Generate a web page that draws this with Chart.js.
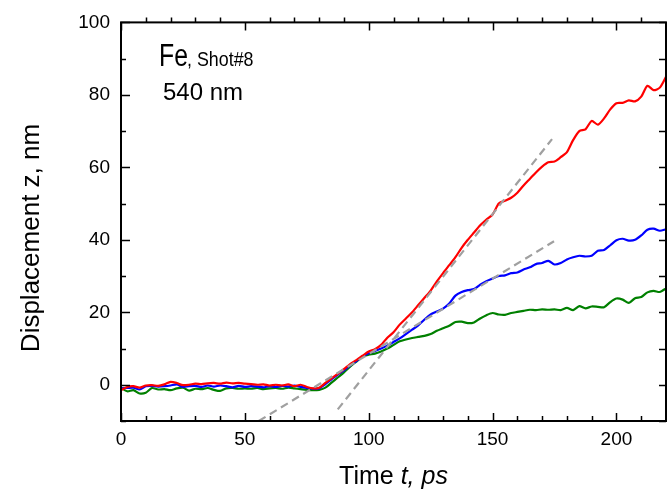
<!DOCTYPE html>
<html>
<head>
<meta charset="utf-8">
<script src="https://cdn.jsdelivr.net/npm/chart.js@4.4.0/dist/chart.umd.min.js"></script>
<style>
    html, body { margin: 0; padding: 0; background: #fff; }
    #wrap { width: 669px; height: 491px; }
</style>
</head>
<body>
<div id="wrap"><canvas id="dispChart" width="669" height="491"></canvas></div>
<script>
// time axis, ps
const timePs = [
    0, 2.5, 5, 7.5, 10, 12.5, 15, 17.5, 20, 22.5, 25, 27.5, 30, 32.5, 35, 37.5,
    40, 42.5, 45, 47.5, 50, 52.5, 55, 57.5, 60, 62.5, 65, 67.5, 70, 72.5, 75, 77.5,
    80, 82.5, 85, 87.5, 90, 92.5, 95, 97.5, 100, 102.5, 105, 107.5, 110, 112.5, 115, 117.5,
    120, 122.5, 125, 127.5, 130, 132.5, 135, 137.5, 140, 142.5, 145, 147.5, 150, 152.5, 155, 157.5,
    160, 162.5, 165, 167.5, 170, 172.5, 175, 177.5, 180, 182.5, 185, 187.5, 190, 192.5, 195, 197.5,
    200, 202.5, 205, 207.5, 210, 212.5, 215, 217.5, 220
]

// displacement, nm
const redZ = [
    -1.5, -0.6, -0.4, -0.8, -0.2, -0.1, -0.3, 0.1, 0.8, 0.5, -0.1, 0.0, 0.3, 0.2, 0.4, 0.5,
    0.3, 0.6, 0.4, 0.5, 0.3, 0.2, 0.0, 0.1, -0.2, 0.0, -0.2, 0.1, -0.4, 0.0, -0.6, -1.0,
    -0.8, 0.5, 1.8, 3.0, 4.3, 5.7, 6.8, 8.0, 9.2, 9.8, 11.0, 13.0, 14.5, 16.6, 18.3, 20.0,
    22.0, 24.0, 26.0, 28.5, 30.8, 33.0, 35.2, 37.8, 40.0, 42.0, 44.0, 45.6, 47.0, 50.0, 50.8, 51.6,
    53.0, 55.0, 56.8, 58.6, 60.2, 61.4, 61.6, 62.8, 64.2, 67.5, 70.0, 70.5, 72.8, 71.8, 73.5, 76.0,
    77.7, 77.8, 78.5, 78.2, 79.5, 82.5, 81.3, 82.0, 85.0
]
const blueZ = [
    -1.0, -0.9, -0.8, -1.3, -0.4, -0.3, -0.5, -0.4, -0.2, 0.1, -0.6, -0.4, -0.3, -0.6, -0.2, -0.5,
    -0.2, -0.4, -0.7, -0.3, -0.6, -0.4, -0.5, -0.7, -0.4, -0.6, -0.3, -0.5, -0.2, -0.6, -0.9, -1.1,
    -1.0, 0.2, 1.5, 2.8, 4.0, 5.3, 6.5, 7.8, 8.7, 9.3, 10.0, 10.8, 11.8, 12.8, 14.0, 15.2,
    16.4, 18.0, 19.4, 20.2, 21.0, 22.4, 24.6, 25.6, 26.1, 26.4, 27.6, 28.6, 29.3, 30.0, 30.2, 30.8,
    31.0, 31.8, 32.4, 33.3, 33.6, 34.2, 33.2, 33.6, 34.6, 35.2, 35.6, 35.4, 35.6, 37.0, 37.2, 38.5,
    39.9, 40.3, 39.8, 40.0, 41.2, 42.8, 43.1, 42.5, 42.9
]
const greenZ = [
    -0.8, -1.8, -1.5, -2.4, -2.2, -0.9, -1.3, -1.2, -1.5, -1.0, -0.8, -1.6, -1.1, -1.2, -0.9, -1.4,
    -1.7, -1.0, -0.9, -1.1, -1.0, -1.1, -0.9, -1.2, -1.0, -0.9, -1.1, -0.8, -1.0, -1.2, -1.4, -1.5,
    -1.4, -0.8, 0.6, 2.0, 3.4, 5.0, 6.4, 7.8, 8.3, 8.6, 9.2, 10.0, 11.0, 12.0, 12.5, 12.9,
    13.2, 13.5, 14.0, 14.9, 15.6, 16.3, 17.3, 17.4, 17.0, 17.2, 18.3, 19.2, 19.8, 19.4, 19.3, 19.8,
    20.1, 20.4, 20.7, 20.6, 20.8, 20.7, 20.8, 20.6, 21.2, 20.6, 21.7, 21.1, 21.6, 21.5, 21.4, 22.8,
    23.8, 23.5, 22.6, 23.9, 24.2, 25.5, 25.9, 25.6, 26.6
]

// linear fits (dashed)
const fitSteepT = [87.5, 174]
const fitSteepZ = [-6.8, 67.8]
const fitShallowT = [55.6, 174.8]
const fitShallowZ = [-10, 39.6]

const xTickLabels = [0, 50, 100, 150, 200]
const xMinorTicks = [10, 20, 30, 40, 60, 70, 80, 90, 110, 120, 130, 140, 160, 170, 180, 190, 210]
const yTickLabels = [0, 20, 40, 60, 80, 100]
const yMinorTicks = [-10, 10, 30, 50, 70, 90]

const FONT = "'Liberation Sans', Arial, Helvetica, sans-serif"

function pairs(xs, ys) {
    return xs.map((x, i) => ({ x: x, y: ys[i] }))
}

const frameTicks = {
    id: 'frameTicks',
    afterDraw(chart) {
        const { ctx, chartArea: a, scales } = chart
        const xs = scales.x, ys = scales.y
        ctx.save()
        ctx.strokeStyle = '#000'
        ctx.lineWidth = 2
        ctx.strokeRect(a.left, a.top, a.right - a.left, a.bottom - a.top)

        ctx.lineWidth = 1.5
        ctx.beginPath()
        xTickLabels.forEach(v => {
            const px = Math.round(xs.getPixelForValue(v)) + 0.5
            ctx.moveTo(px, a.bottom); ctx.lineTo(px, a.bottom - 8)
            ctx.moveTo(px, a.top); ctx.lineTo(px, a.top + 8)
        })
        xMinorTicks.forEach(v => {
            const px = Math.round(xs.getPixelForValue(v)) + 0.5
            ctx.moveTo(px, a.bottom); ctx.lineTo(px, a.bottom - 5)
            ctx.moveTo(px, a.top); ctx.lineTo(px, a.top - 5)
        })
        yTickLabels.forEach(v => {
            const py = Math.round(ys.getPixelForValue(v)) + 0.5
            ctx.moveTo(a.left, py); ctx.lineTo(a.left + 9, py)
            ctx.moveTo(a.right, py); ctx.lineTo(a.right - 7, py)
        })
        yMinorTicks.forEach(v => {
            const py = Math.round(ys.getPixelForValue(v)) + 0.5
            ctx.moveTo(a.left, py); ctx.lineTo(a.left + 5, py)
            ctx.moveTo(a.right, py); ctx.lineTo(a.right - 7, py)
        })
        ctx.stroke()

        // axis titles
        ctx.fillStyle = '#000'
        ctx.textBaseline = 'alphabetic'
        ctx.font = '25px ' + FONT
        const w1 = ctx.measureText('Time ').width
        ctx.font = 'italic 25px ' + FONT
        const w2 = ctx.measureText('t, ps').width
        let tx = (a.left + a.right) / 2 - (w1 + w2) / 2
        ctx.font = '25px ' + FONT
        ctx.textAlign = 'left'
        ctx.fillText('Time ', tx, 484)
        ctx.font = 'italic 25px ' + FONT
        ctx.fillText('t, ps', tx + w1, 484)

        ctx.save()
        ctx.translate(39, 238)
        ctx.rotate(-Math.PI / 2)
        ctx.font = '26px ' + FONT
        ctx.textAlign = 'center'
        ctx.fillText('Displacement z, nm', 0, 0)
        ctx.restore()

        // sample label
        ctx.save()
        ctx.translate(159, 66)
        ctx.scale(0.8, 1)
        ctx.font = '31px ' + FONT
        ctx.textAlign = 'left'
        ctx.fillText('Fe', 0, 0)
        ctx.restore()
        ctx.save()
        ctx.translate(187, 66)
        ctx.scale(0.85, 1)
        ctx.font = '21px ' + FONT
        ctx.textAlign = 'left'
        ctx.fillText(', Shot#8', 0, 0)
        ctx.restore()
        ctx.font = '24px ' + FONT
        ctx.textAlign = 'left'
        ctx.fillText('540 nm', 163, 100)
        ctx.restore()
    }
}

document.addEventListener("DOMContentLoaded", function () {
    const ctx = document.getElementById('dispChart').getContext('2d')

    new Chart(ctx, {
        type: 'line',
        data: {
            datasets: [
                { data: pairs(timePs, greenZ), borderColor: '#008000', order: 3 },
                { data: pairs(timePs, blueZ), borderColor: '#0000ff', order: 2 },
                { data: pairs(timePs, redZ), borderColor: '#ff0000', order: 1 },
                { data: pairs(fitSteepT, fitSteepZ), borderColor: '#a0a0a0', borderDash: [8, 5], tension: 0, order: 0 },
                { data: pairs(fitShallowT, fitShallowZ), borderColor: '#a0a0a0', borderDash: [8, 5], tension: 0, order: 0 }
            ]
        },
        options: {
            responsive: false,
            animation: false,
            devicePixelRatio: 1,
            layout: { padding: { top: 18, right: 3, left: 0, bottom: 0 } },
            elements: {
                point: { radius: 0, hoverRadius: 0 },
                line: { borderWidth: 2.2, tension: 0.25, fill: false }
            },
            plugins: {
                legend: { display: false },
                tooltip: { enabled: false }
            },
            scales: {
                x: {
                    type: 'linear',
                    min: 0,
                    max: 220,
                    afterBuildTicks: s => { s.ticks = xTickLabels.map(v => ({ value: v })) },
                    afterFit: s => { s.height = 70 },
                    grid: { display: false, drawTicks: false },
                    border: { display: false },
                    ticks: {
                        color: '#000',
                        font: { family: FONT, size: 19 },
                        padding: 7,
                        maxRotation: 0,
                        autoSkip: false
                    }
                },
                y: {
                    type: 'linear',
                    min: -10,
                    max: 100,
                    afterBuildTicks: s => { s.ticks = yTickLabels.map(v => ({ value: v })) },
                    afterFit: s => { s.width = 121 },
                    grid: { display: false, drawTicks: false },
                    border: { display: false },
                    ticks: {
                        color: '#000',
                        font: { family: FONT, size: 19 },
                        padding: 11
                    }
                }
            }
        },
        plugins: [frameTicks]
    });
});
</script>
</body>
</html>
